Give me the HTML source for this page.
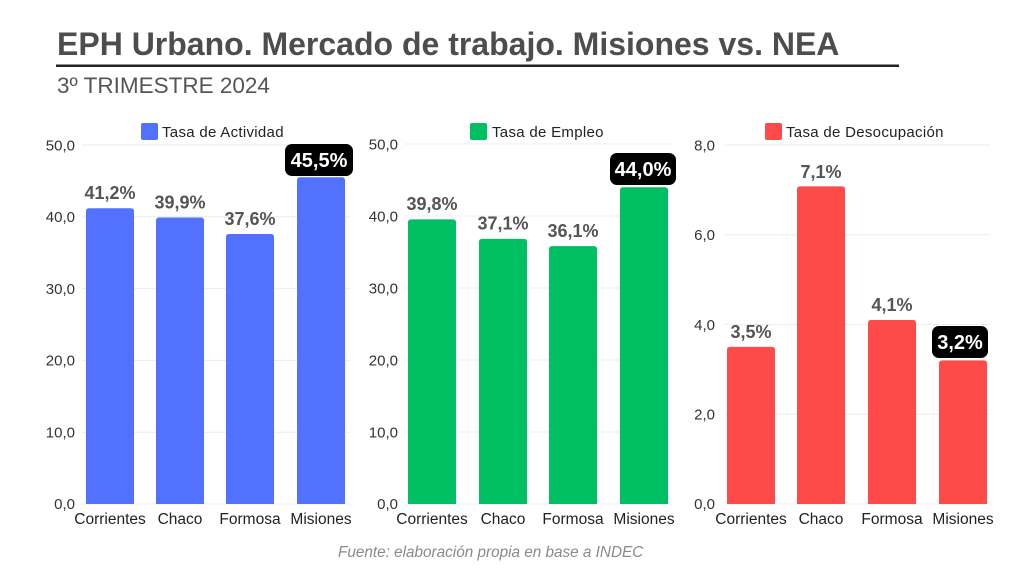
<!DOCTYPE html>
<html><head><meta charset="utf-8"><style>
html,body{margin:0;padding:0;background:#fff;}
svg{display:block;}
text{font-family:"Liberation Sans",sans-serif;}
</style></head><body>
<svg width="1024" height="576" viewBox="0 0 1024 576" xmlns="http://www.w3.org/2000/svg">
<rect width="1024" height="576" fill="#fff"/>
<!-- Title -->
<text x="57" y="55" font-size="32" font-weight="bold" fill="#4d4d4d">EPH Urbano. Mercado de trabajo. Misiones vs. NEA</text>
<rect x="56" y="64.5" width="843" height="2.5" fill="#222"/>
<text x="57" y="93" font-size="22.5" fill="#555">3º TRIMESTRE 2024</text>

<!-- Chart 1 gridlines -->
<g stroke="#ececec" stroke-width="1">
<line x1="82" y1="504" x2="350" y2="504"/>
<line x1="82" y1="432.2" x2="350" y2="432.2"/>
<line x1="82" y1="360.4" x2="350" y2="360.4"/>
<line x1="82" y1="288.6" x2="350" y2="288.6"/>
<line x1="82" y1="216.8" x2="350" y2="216.8"/>
<line x1="82" y1="145" x2="350" y2="145"/>
</g>
<g font-size="15" fill="#333" text-anchor="end">
<text x="75" y="509">0,0</text>
<text x="75" y="437.5">10,0</text>
<text x="75" y="365.5">20,0</text>
<text x="75" y="294">30,0</text>
<text x="75" y="222">40,0</text>
<text x="75" y="150.5">50,0</text>
</g>
<rect x="141" y="123" width="17" height="17" rx="2" fill="#5271ff"/>
<text x="162" y="137" font-size="15" fill="#222" letter-spacing="0.3">Tasa de Actividad</text>
<g fill="#5271ff">
<path d="M86,504 V211.2 q0,-3 3,-3 h42 q3,0 3,3 V504 Z"/>
<path d="M156,504 V220.5 q0,-3 3,-3 h42 q3,0 3,3 V504 Z"/>
<path d="M226,504 V237 q0,-3 3,-3 h42 q3,0 3,3 V504 Z"/>
<path d="M297,504 V180.3 q0,-3 3,-3 h42 q3,0 3,3 V504 Z"/>
</g>
<g font-size="18" font-weight="bold" fill="#555" text-anchor="middle">
<text x="110" y="199">41,2%</text>
<text x="180" y="208.5">39,9%</text>
<text x="250" y="225">37,6%</text>
</g>
<rect x="285" y="144" width="68" height="32" rx="7" fill="#000"/>
<text x="319" y="167" font-size="20" font-weight="bold" fill="#fff" text-anchor="middle">45,5%</text>
<g font-size="15.5" fill="#222" text-anchor="middle">
<text x="110" y="524">Corrientes</text>
<text x="180" y="524">Chaco</text>
<text x="250" y="524">Formosa</text>
<text x="321" y="524">Misiones</text>
</g>

<!-- Chart 2 -->
<g stroke="#ececec" stroke-width="1">
<line x1="405" y1="504" x2="670" y2="504"/>
<line x1="405" y1="432" x2="670" y2="432"/>
<line x1="405" y1="360" x2="670" y2="360"/>
<line x1="405" y1="288" x2="670" y2="288"/>
<line x1="405" y1="216" x2="670" y2="216"/>
<line x1="405" y1="144" x2="670" y2="144"/>
</g>
<g font-size="15" fill="#333" text-anchor="end">
<text x="398" y="509">0,0</text>
<text x="398" y="437.5">10,0</text>
<text x="398" y="365.5">20,0</text>
<text x="398" y="293.5">30,0</text>
<text x="398" y="221.5">40,0</text>
<text x="398" y="149.5">50,0</text>
</g>
<rect x="470" y="123" width="17" height="17" rx="2" fill="#00bf63"/>
<text x="492" y="137" font-size="15" fill="#222" letter-spacing="0.3">Tasa de Empleo</text>
<g fill="#00bf63">
<path d="M408,504 V222.4 q0,-3 3,-3 h42 q3,0 3,3 V504 Z"/>
<path d="M479,504 V241.9 q0,-3 3,-3 h42 q3,0 3,3 V504 Z"/>
<path d="M549,504 V249.1 q0,-3 3,-3 h42 q3,0 3,3 V504 Z"/>
<path d="M620,504 V190.2 q0,-3 3,-3 h42 q3,0 3,3 V504 Z"/>
</g>
<g font-size="18" font-weight="bold" fill="#555" text-anchor="middle">
<text x="432" y="210">39,8%</text>
<text x="503" y="229.5">37,1%</text>
<text x="573" y="237">36,1%</text>
</g>
<rect x="610" y="153" width="66" height="32" rx="7" fill="#000"/>
<text x="643" y="176" font-size="20" font-weight="bold" fill="#fff" text-anchor="middle">44,0%</text>
<g font-size="15.5" fill="#222" text-anchor="middle">
<text x="432" y="524">Corrientes</text>
<text x="503" y="524">Chaco</text>
<text x="573" y="524">Formosa</text>
<text x="644" y="524">Misiones</text>
</g>

<!-- Chart 3 -->
<g stroke="#ececec" stroke-width="1">
<line x1="725" y1="504" x2="990" y2="504"/>
<line x1="725" y1="414.25" x2="990" y2="414.25"/>
<line x1="725" y1="324.5" x2="990" y2="324.5"/>
<line x1="725" y1="234.75" x2="990" y2="234.75"/>
<line x1="725" y1="145" x2="990" y2="145"/>
</g>
<g font-size="15" fill="#333" text-anchor="end">
<text x="715" y="509">0,0</text>
<text x="715" y="419.5">2,0</text>
<text x="715" y="330">4,0</text>
<text x="715" y="240">6,0</text>
<text x="715" y="150.5">8,0</text>
</g>
<rect x="765" y="123" width="17" height="17" rx="2" fill="#ff4a4a"/>
<text x="786" y="137" font-size="15" fill="#222" letter-spacing="0.3">Tasa de Desocupación</text>
<g fill="#ff4a4a">
<path d="M727,504 V349.9 q0,-3 3,-3 h42 q3,0 3,3 V504 Z"/>
<path d="M797,504 V189.4 q0,-3 3,-3 h42 q3,0 3,3 V504 Z"/>
<path d="M868,504 V323 q0,-3 3,-3 h42 q3,0 3,3 V504 Z"/>
<path d="M939,504 V363.4 q0,-3 3,-3 h42 q3,0 3,3 V504 Z"/>
</g>
<g font-size="18" font-weight="bold" fill="#555" text-anchor="middle">
<text x="751" y="338">3,5%</text>
<text x="821" y="178">7,1%</text>
<text x="892" y="311">4,1%</text>
</g>
<rect x="932" y="326" width="56" height="32" rx="7" fill="#000"/>
<text x="960" y="349" font-size="20" font-weight="bold" fill="#fff" text-anchor="middle">3,2%</text>
<g font-size="15.5" fill="#222" text-anchor="middle">
<text x="751" y="524">Corrientes</text>
<text x="821" y="524">Chaco</text>
<text x="892" y="524">Formosa</text>
<text x="963" y="524">Misiones</text>
</g>

<!-- Footer -->
<text x="338" y="557" font-size="15.3" font-style="italic" fill="#8a8a8a">Fuente: elaboración propia en base a INDEC</text>
</svg>
</body></html>
